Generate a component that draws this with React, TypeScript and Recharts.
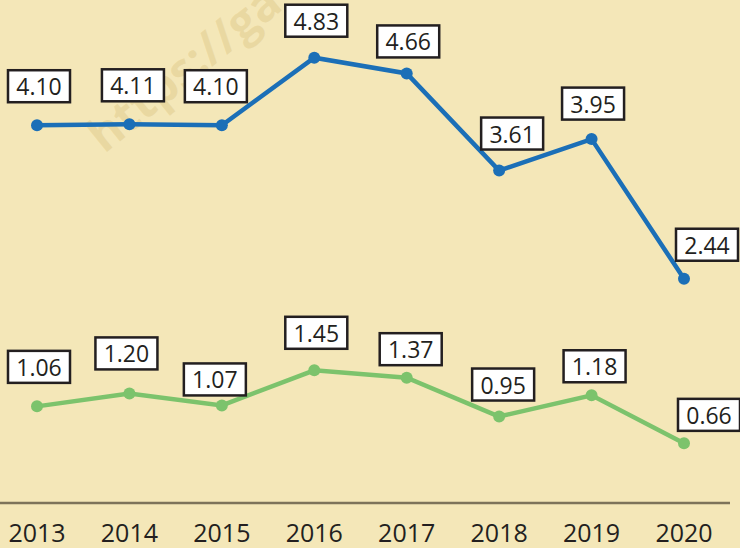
import {LineChart, Line, XAxis, YAxis, LabelList} from 'recharts'

const years = ['2013', '2014', '2015', '2016', '2017', '2018', '2019', '2020']
const blueValues = [4.10, 4.11, 4.10, 4.83, 4.66, 3.61, 3.95, 2.44]
const greenValues = [1.06, 1.20, 1.07, 1.45, 1.37, 0.95, 1.18, 0.66]

// label box offsets from each point (hand placed in the original)
const blueDx = [2, 3.5, -6, 2, 1.5, 13, 1.5, 23]
const blueDy = [-39, -39, -39, -37, -32, -37, -35.5, -34]
const greenDx = [2, -3, -7, 2, 4, 4, 3, 25]
const greenDy = [-39.5, -40, -26, -37.5, -28.5, -32, -29, -28.5]

const data = years.map((y, i) => ({year: y, blue: blueValues[i], green: greenValues[i]}))

const BG = '#f4e7b8'
const INK = '#231f20'
const FONT = '"Open Sans", "Noto Sans", sans-serif'

const makeBox = (dxs: number[], dys: number[]) => (props: any) => {
    const {x, y, index, value} = props
    const cx = Number(x) + dxs[index]
    const cy = Number(y) + dys[index]
    const w = 62
    const h = 32
    return (
        <g>
            <rect x={cx - w / 2} y={cy - h / 2} width={w} height={h} fill="#ffffff" stroke={INK} strokeWidth={2.5}/>
            <text x={cx} y={cy} textAnchor="middle" dominantBaseline="central" fontSize={23}
                  fontFamily={FONT} fill={INK}>
                {Number(value).toFixed(2)}
            </text>
        </g>
    )
}

export default function App() {
    return (
        <div style={{position: 'absolute', left: 0, top: 0, width: 740, height: 548, background: BG, overflow: 'hidden'}}>
            <div style={{
                position: 'absolute', left: 108, top: 112, fontFamily: FONT, fontWeight: 700, fontSize: 47,
                color: 'rgba(196,165,80,0.22)', transform: 'rotate(-39deg)', transformOrigin: '0 100%',
                whiteSpace: 'nowrap', lineHeight: '47px',
            }}>
                https://ga
            </div>
            <div style={{position: 'absolute', left: 0, top: 0}}>
                <LineChart width={740} height={548} data={data} margin={{top: 5, right: 10, left: 0, bottom: 0}}>
                    <XAxis dataKey="year" height={45} padding={{left: 37, right: 46}} tickLine={false}
                           tickMargin={15} interval={0}
                           axisLine={{stroke: '#7d735a', strokeWidth: 2.5}}
                           tick={{fontSize: 25, fill: INK, fontFamily: FONT}}/>
                    <YAxis hide domain={[0.015, 5.4]}/>
                    <Line dataKey="blue" stroke="#1b6fb7" strokeWidth={4.5} isAnimationActive={false}
                          dot={{r: 6, fill: '#1b6fb7', stroke: 'none'}}>
                        <LabelList dataKey="blue" content={makeBox(blueDx, blueDy)}/>
                    </Line>
                    <Line dataKey="green" stroke="#7cc36c" strokeWidth={4.5} isAnimationActive={false}
                          dot={{r: 6, fill: '#7cc36c', stroke: 'none'}}>
                        <LabelList dataKey="green" content={makeBox(greenDx, greenDy)}/>
                    </Line>
                </LineChart>
            </div>
        </div>
    )
}
